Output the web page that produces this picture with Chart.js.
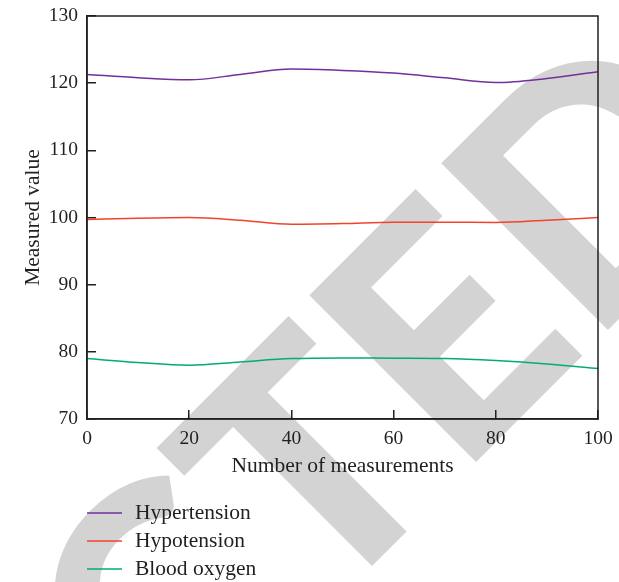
<!DOCTYPE html>
<html>
<head>
<meta charset="utf-8">
<script src="https://cdn.jsdelivr.net/npm/chart.js@4"></script>
<style>
  html, body { margin: 0; padding: 0; background: #fff; }
  #wrap { width: 619px; height: 582px; }
</style>
</head>
<body>
<div id="wrap"><canvas id="chart" width="619" height="582"></canvas></div>
<script>
const measurements = [0, 10, 20, 30, 40, 50, 60, 70, 80, 90, 100];
const hypertension = [121.3, 120.8, 120.5, 121.3, 122.1, 121.9, 121.5, 120.8, 120.1, 120.7, 121.7];
const hypotension  = [99.7, 99.9, 100.0, 99.6, 99.0, 99.1, 99.3, 99.3, 99.25, 99.6, 100.0];
const bloodOxygen  = [79.0, 78.4, 78.0, 78.5, 79.0, 79.1, 79.05, 79.0, 78.7, 78.2, 77.5];

const seriesNames = ['Hypertension', 'Hypotension', 'Blood oxygen'];
const seriesColors = ['#7030a0', '#f0442a', '#00ad72'];

const xTicks = [0, 20, 40, 60, 80, 100];
const yTicks = [70, 80, 90, 100, 110, 120, 130];

const ink = '#231f20';
const serif = '"Liberation Serif", "Times New Roman", serif';

function toPoints(values) {
    return values.map((v, i) => ({ x: measurements[i], y: v }));
}

// fixed box sizes so the plot area lands where the original has it
function fixBox(size, dim) {
    return (scale) => {
        scale[dim] = size;
        scale.paddingTop = 0;
        scale.paddingBottom = 0;
        scale.paddingLeft = 0;
        scale.paddingRight = 0;
    };
}

// grey "RETRACTED" stamp behind the chart
const stampPlugin = {
    id: 'stamp',
    beforeDraw(chart) {
        const ctx = chart.ctx;
        ctx.save();
        ctx.font = '900 325px Lato';
        const prefix = ctx.measureText('RETRACT').width;
        const eLeft = ctx.measureText('E').actualBoundingBoxLeft;
        ctx.translate(473, 465);
        ctx.rotate(-Math.PI / 4);
        ctx.fillStyle = '#d3d3d3';
        ctx.textBaseline = 'alphabetic';
        ctx.fillText('RETRACTED', eLeft - prefix, 0);
        ctx.restore();
    }
};

// box round the plot area (top and right edges)
const framePlugin = {
    id: 'frame',
    afterDatasetsDraw(chart) {
        const { ctx, chartArea: a } = chart;
        ctx.save();
        ctx.strokeStyle = ink;
        ctx.lineWidth = 1.5;
        ctx.strokeRect(a.left, a.top, a.right - a.left, a.bottom - a.top);
        ctx.restore();
    }
};

// stacked legend under the x axis title
const stackedLegend = {
    id: 'stackedLegend',
    afterDraw(chart) {
        const { ctx, chartArea } = chart;
        const left = chartArea.left;
        ctx.save();
        ctx.font = '21.5px ' + serif;
        ctx.textBaseline = 'middle';
        ctx.textAlign = 'left';
        chart.data.datasets.forEach((ds, i) => {
            const y = 513 + i * 28;
            ctx.strokeStyle = ds.borderColor;
            ctx.lineWidth = 1.5;
            ctx.beginPath();
            ctx.moveTo(left, y);
            ctx.lineTo(left + 35, y);
            ctx.stroke();
            ctx.fillStyle = ink;
            ctx.fillText(ds.label, left + 48, y);
        });
        ctx.restore();
    }
};

const allSeries = [hypertension, hypotension, bloodOxygen];

new Chart(document.getElementById('chart'), {
    type: 'line',
    data: {
        datasets: allSeries.map((s, i) => ({
            label: seriesNames[i],
            data: toPoints(s),
            borderColor: seriesColors[i],
            backgroundColor: seriesColors[i],
            borderWidth: 1.5,
            pointRadius: 0,
            cubicInterpolationMode: 'monotone',
            fill: false
        }))
    },
    options: {
        responsive: false,
        animation: false,
        layout: { padding: { top: 16, right: 21, bottom: 103, left: 0 } },
        plugins: {
            legend: { display: false },
            tooltip: { enabled: false }
        },
        scales: {
            x: {
                type: 'linear',
                min: 0,
                max: 100,
                afterFit: fixBox(60, 'height'),
                afterBuildTicks: (scale) => { scale.ticks = xTicks.map(v => ({ value: v })); },
                ticks: { color: ink, padding: 17, font: { family: serif, size: 19.5 } },
                grid: { drawOnChartArea: false, tickLength: -9, color: ink, lineWidth: 1.5 },
                border: { color: ink, width: 1.5 },
                title: {
                    display: true,
                    text: 'Number of measurements',
                    color: ink,
                    font: { family: serif, size: 21.5 },
                    padding: { top: 4, bottom: 0 }
                }
            },
            y: {
                min: 70,
                max: 130,
                afterFit: fixBox(87, 'width'),
                afterBuildTicks: (scale) => { scale.ticks = yTicks.map(v => ({ value: v })); },
                ticks: { color: ink, padding: 18, font: { family: serif, size: 19.5 } },
                grid: { drawOnChartArea: false, tickLength: -9, color: ink, lineWidth: 1.5 },
                border: { color: ink, width: 1.5 },
                title: {
                    display: true,
                    text: 'Measured value',
                    color: ink,
                    font: { family: serif, size: 21.5 },
                    padding: { top: 20, bottom: 0 }
                }
            }
        }
    },
    plugins: [stampPlugin, framePlugin, stackedLegend]
});
</script>
</body>
</html>
